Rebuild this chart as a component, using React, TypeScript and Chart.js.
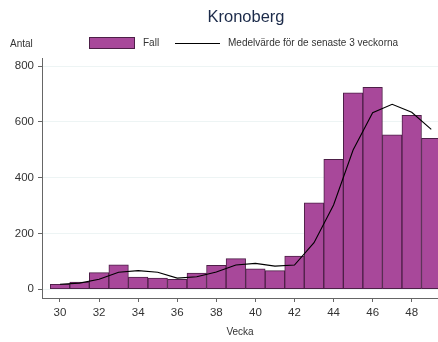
import React, { useEffect, useRef } from "react";
import { Chart, registerables } from "chart.js";

Chart.register(...registerables);

const weeks = [30, 31, 32, 33, 34, 35, 36, 37, 38, 39, 40, 41, 42, 43, 44, 45, 46, 47, 48, 49];
const fall = [18, 26, 60, 88, 44, 40, 36, 58, 86, 110, 73, 67, 119, 310, 466, 704, 724, 553, 623, 541];
const avg3 = [18, 22, 36, 61, 67, 61, 40, 45, 62, 87, 93, 83, 87, 167, 302, 499, 633, 663, 634, 573];
const xTicks = [30, 32, 34, 36, 38, 40, 42, 44, 46, 48];
const yTicks = [0, 200, 400, 600, 800];

const titleText = "Kronoberg";
const legendFall = "Fall";
const legendAvg = "Medelvärde för de senaste 3 veckorna";
const yTitle = "Antal";
const xTitle = "Vecka";

const FONT = "'Liberation Sans', Arial, sans-serif";
const BAR_FILL = "#a8489a";
const BAR_BORDER = "#4d1f47";
const TEXT = "#333333";

const headerPlugin = {
  id: "header",
  afterDraw(chart: any) {
    const ctx = chart.ctx;
    ctx.save();
    ctx.textBaseline = "middle";
    ctx.fillStyle = "#1c2b4a";
    ctx.font = `16.5px ${FONT}`;
    ctx.textAlign = "center";
    ctx.fillText(titleText, 246, 17);
    ctx.fillStyle = TEXT;
    ctx.font = `10px ${FONT}`;
    ctx.textAlign = "left";
    ctx.fillText(yTitle, 10, 44);
    ctx.fillStyle = BAR_FILL;
    ctx.fillRect(89, 37, 46, 12);
    ctx.strokeStyle = BAR_BORDER;
    ctx.lineWidth = 1;
    ctx.strokeRect(89.5, 37.5, 45, 11);
    ctx.fillStyle = TEXT;
    ctx.fillText(legendFall, 143, 43.5);
    ctx.strokeStyle = "#000000";
    ctx.beginPath();
    ctx.moveTo(175, 43.5);
    ctx.lineTo(220, 43.5);
    ctx.stroke();
    ctx.fillText(legendAvg, 228, 43.5);
    ctx.restore();
  },
};

export default function App() {
  const ref = useRef<HTMLCanvasElement | null>(null);

  useEffect(() => {
    if (!ref.current) return;
    const chart = new Chart(ref.current, {
      type: "bar",
      data: {
        datasets: [
          {
            type: "line",
            label: legendAvg,
            data: weeks.map((w, i) => ({ x: w, y: avg3[i] })),
            borderColor: "#000000",
            borderWidth: 1.1,
            pointRadius: 0,
            tension: 0,
            fill: false,
            order: 0,
          } as any,
          {
            type: "bar",
            label: legendFall,
            data: weeks.map((w, i) => ({ x: w, y: fall[i] })),
            backgroundColor: BAR_FILL,
            borderColor: BAR_BORDER,
            borderWidth: 1,
            borderSkipped: false,
            barPercentage: 1,
            categoryPercentage: 1,
            order: 1,
          } as any,
        ],
      },
      options: {
        responsive: false,
        animation: false,
        layout: { padding: { top: 58, left: 0, right: 0, bottom: 0 } },
        plugins: {
          legend: { display: false },
          title: { display: false },
          tooltip: { enabled: false },
        },
        scales: {
          x: {
            type: "linear",
            min: 29.079,
            max: 49.345,
            offset: false,
            afterBuildTicks: (s: any) => {
              s.ticks = xTicks.map((v) => ({ value: v }));
            },
            afterFit: (s: any) => {
              s.height = 44;
            },
            grid: {
              display: true,
              offset: false,
              drawOnChartArea: false,
              drawTicks: true,
              tickLength: 4,
              color: "#666666",
            },
            border: { display: true, color: "#666666", width: 1 },
            ticks: {
              color: TEXT,
              font: { family: FONT, size: 11.5 },
              padding: 4,
              maxRotation: 0,
              autoSkip: false,
            },
            title: {
              display: true,
              text: xTitle,
              color: TEXT,
              font: { family: FONT, size: 10 },
              padding: { top: 0, bottom: 4 },
            },
          },
          y: {
            type: "linear",
            min: -31.2,
            max: 828.7,
            afterBuildTicks: (s: any) => {
              s.ticks = yTicks.map((v) => ({ value: v }));
            },
            afterFit: (s: any) => {
              s.width = 42;
            },
            grid: {
              display: true,
              drawOnChartArea: true,
              drawTicks: true,
              tickLength: 4,
              color: "#edf4f4",
              tickColor: "#666666",
            },
            border: { display: true, color: "#666666", width: 1 },
            ticks: {
              color: TEXT,
              font: { family: FONT, size: 11.5 },
              padding: 4,
            },
          },
        },
      },
      plugins: [headerPlugin],
    } as any);
    return () => chart.destroy();
  }, []);

  return (
    <div style={{ position: "absolute", left: 0, top: 0, width: 438, height: 342, background: "#ffffff" }}>
      <canvas ref={ref} width={438} height={342} style={{ width: 438, height: 342 }} />
    </div>
  );
}
